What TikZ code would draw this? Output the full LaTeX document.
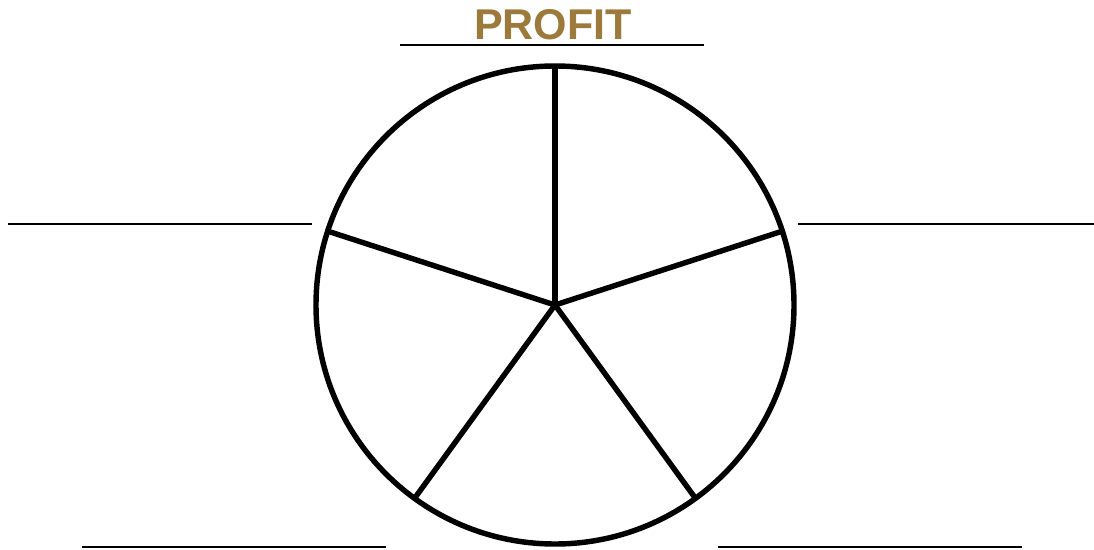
\documentclass[tikz,border=0pt]{standalone}
\usepackage{fontspec}
\setmainfont{Liberation Sans}
\definecolor{profitgold}{HTML}{9C7A3C}

\tikzset{
  wheel/.style={line width=3.1pt, black},   % 圆和分隔线
  blank/.style={line width=1.1pt, black}    % 填写用的横线
}

\begin{document}
\begin{tikzpicture}[x=0.02cm, y=-0.02cm]
\useasboundingbox (0,0) rectangle (1094,550);

% 标题
\node[profitgold, font=\bfseries\fontsize{24.5}{29}\selectfont] (title) at (553,25) {PROFIT};
\draw[blank] (400,45) -- (704,45);

% 圆心
\coordinate (c) at (555,305);

% 圆
\draw[wheel] (c) circle (239);

% 五条分隔线
\foreach \a in {90,18,-54,-126,162}
  \draw[wheel] (c) -- ++({239*cos(\a)},{-239*sin(\a)});

% 横线
\draw[blank] (8,224) -- (312,224);
\draw[blank] (798,224) -- (1094,224);
\draw[blank] (82,547) -- (386,547);
\draw[blank] (718,547) -- (1022,547);

\end{tikzpicture}
\end{document}
